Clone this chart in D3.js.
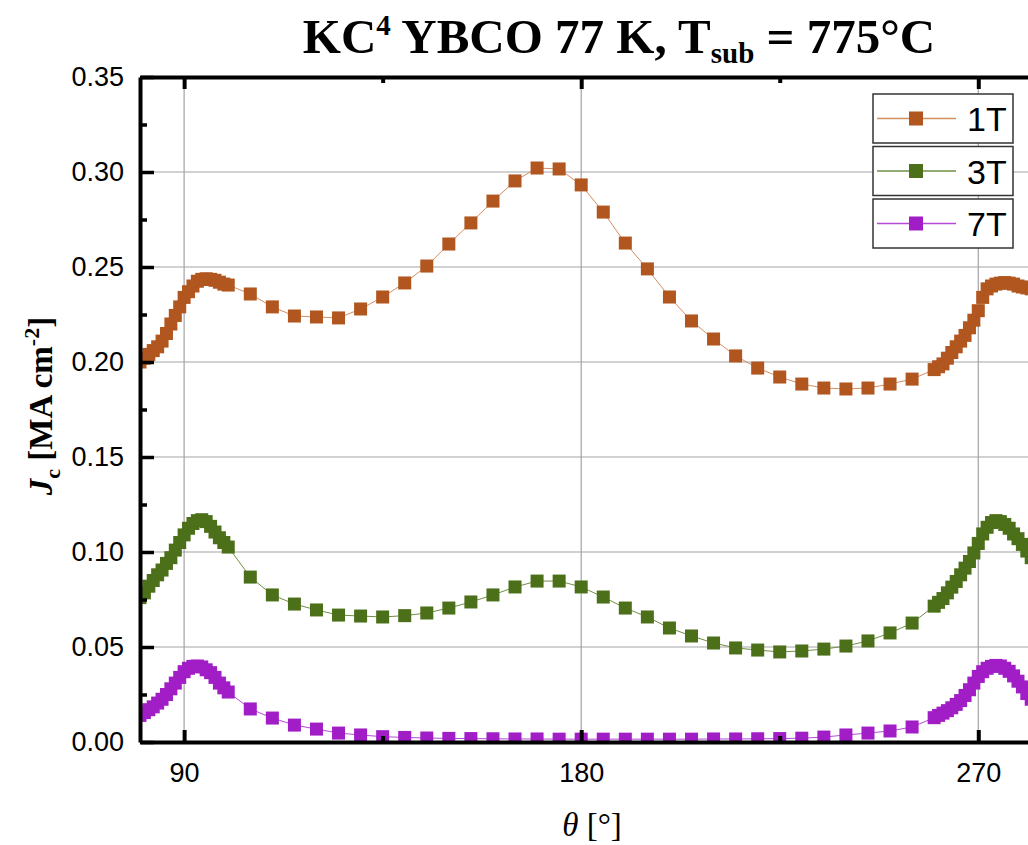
<!DOCTYPE html>
<html>
<head>
<meta charset="utf-8">
<script src="https://cdn.jsdelivr.net/npm/d3@7"></script>
<style>
  body { margin: 0; background: #fff; }
  svg { display: block; }
  .tick text { font-family: 'Liberation Sans', Arial, sans-serif; font-size: 27px; fill: #000; }
</style>
</head>
<body>
<script>
// angle in degrees, dense sampling near the ab-peaks
var angles = [80, 81, 82, 83, 84, 85, 86, 87, 88, 89, 90, 91, 92, 93, 94, 95, 96, 97, 98, 99, 100,
    105, 110, 115, 120, 125, 130, 135, 140, 145, 150, 155, 160, 165, 170, 175, 180,
    185, 190, 195, 200, 205, 210, 215, 220, 225, 230, 235, 240, 245, 250, 255,
    260, 261, 262, 263, 264, 265, 266, 267, 268, 269, 270, 271, 272, 273, 274, 275,
    276, 277, 278, 279, 280, 281, 282, 283, 284, 285];

var jc1T = [0.200, 0.202, 0.204, 0.206, 0.208, 0.211, 0.215, 0.220, 0.2245, 0.229, 0.234, 0.237, 0.240, 0.2425, 0.2435, 0.2438, 0.2435, 0.243, 0.242, 0.241, 0.2405,
    0.2358, 0.2290, 0.2242, 0.2237, 0.2232, 0.2279, 0.2342, 0.2416, 0.2505, 0.2621, 0.2732, 0.2847, 0.2953, 0.3021, 0.3016, 0.2932,
    0.2789, 0.2626, 0.2490, 0.2342, 0.2216, 0.2121, 0.2032, 0.1968, 0.1921, 0.1884, 0.1863, 0.1858, 0.1863, 0.1884, 0.1910,
    0.196, 0.1975, 0.199, 0.202, 0.205, 0.208, 0.211, 0.214, 0.218, 0.222, 0.227, 0.234, 0.2385, 0.240, 0.241, 0.2415,
    0.2418, 0.2415, 0.241, 0.240, 0.2395, 0.239, 0.2385, 0.238, 0.2375, 0.237];

var jc3T = [0.076, 0.0785, 0.082, 0.085, 0.088, 0.0905, 0.094, 0.097, 0.101, 0.105, 0.109, 0.1125, 0.115, 0.1165, 0.117, 0.116, 0.1135, 0.1105, 0.1075, 0.105, 0.1026,
    0.0868, 0.0774, 0.0726, 0.0695, 0.0668, 0.0663, 0.0658, 0.0665, 0.0679, 0.0705, 0.0737, 0.0774, 0.0816, 0.0847, 0.0847, 0.0816,
    0.0763, 0.0705, 0.0658, 0.0600, 0.0558, 0.0521, 0.0495, 0.0484, 0.0474, 0.0479, 0.0489, 0.0505, 0.0532, 0.0574, 0.0626,
    0.0715, 0.0735, 0.0755, 0.0785, 0.0815, 0.0845, 0.088, 0.0915, 0.095, 0.0995, 0.1045, 0.1095, 0.113, 0.1155, 0.1165, 0.116,
    0.1145, 0.1125, 0.1095, 0.107, 0.104, 0.1005, 0.097, 0.094, 0.091, 0.088];

var jc7T = [0.014, 0.0155, 0.017, 0.0185, 0.0205, 0.0225, 0.025, 0.028, 0.031, 0.034, 0.037, 0.0388, 0.0398, 0.040, 0.0395, 0.038, 0.0365, 0.034, 0.031, 0.0285, 0.0263,
    0.0174, 0.0126, 0.0089, 0.0068, 0.0047, 0.0037, 0.0028, 0.0024, 0.0021, 0.0019, 0.0018, 0.0017, 0.0016, 0.0016, 0.0015, 0.0015,
    0.0015, 0.0015, 0.0015, 0.0015, 0.0015, 0.0016, 0.0016, 0.0017, 0.0018, 0.0020, 0.0026, 0.0037, 0.0047, 0.0058, 0.0079,
    0.0128, 0.014, 0.0152, 0.0165, 0.018, 0.0198, 0.0218, 0.0245, 0.0275, 0.031, 0.0345, 0.037, 0.0388, 0.0398, 0.0403, 0.040,
    0.0388, 0.0372, 0.0348, 0.032, 0.029, 0.0255, 0.0225, 0.020, 0.018, 0.016];

var seriesNames = ['1T', '3T', '7T'];
var seriesValues = [jc1T, jc3T, jc7T];
var markerColors = ['#b0561e', '#4b7019', '#a11dc6'];
var lineColors = ['#d38f62', '#6f8f45', '#b54ad8'];

var xTicks = [90, 180, 270];
var xMinorTicks = [135, 225];
var yTicks = [0, 0.05, 0.10, 0.15, 0.20, 0.25, 0.30, 0.35];
var yMinorTicks = [0.025, 0.075, 0.125, 0.175, 0.225, 0.275, 0.325];

var width = 1028, height = 845;
var plotLeft = 140, plotTop = 77, plotBottom = 742;
var plotRight = plotLeft + 210 * 4.412;
var markerSize = 13;

var svg = d3.select('body').append('svg')
    .attr('width', width)
    .attr('height', height);

var x = d3.scaleLinear().domain([80, 290]).range([plotLeft, plotRight]);
var y = d3.scaleLinear().domain([0, 0.35]).range([plotBottom, plotTop]);

// grid
svg.append('g').selectAll('line')
    .data(yTicks.slice(1, -1))
    .enter().append('line')
    .attr('x1', plotLeft).attr('x2', plotRight)
    .attr('y1', function(d) { return y(d); })
    .attr('y2', function(d) { return y(d); })
    .attr('stroke', '#a3a3a3')
    .attr('stroke-width', 1.2);

svg.append('g').selectAll('line')
    .data(xTicks)
    .enter().append('line')
    .attr('y1', plotTop).attr('y2', plotBottom)
    .attr('x1', function(d) { return x(d); })
    .attr('x2', function(d) { return x(d); })
    .attr('stroke', '#a3a3a3')
    .attr('stroke-width', 1.2);

svg.append('clipPath').attr('id', 'plot-clip')
    .append('rect')
    .attr('x', plotLeft).attr('y', plotTop)
    .attr('width', plotRight - plotLeft).attr('height', plotBottom - plotTop);

var plot = svg.append('g').attr('clip-path', 'url(#plot-clip)');

var line = d3.line()
    .x(function(d) { return x(d[0]); })
    .y(function(d) { return y(d[1]); });

seriesValues.forEach(function(vals, k) {
    var pts = angles.map(function(a, i) { return [a, vals[i]]; });
    plot.append('path')
        .datum(pts)
        .attr('d', line)
        .attr('fill', 'none')
        .attr('stroke', lineColors[k])
        .attr('stroke-width', 1);
    plot.append('g').selectAll('rect')
        .data(pts)
        .enter().append('rect')
        .attr('x', function(d) { return x(d[0]) - markerSize / 2; })
        .attr('y', function(d) { return y(d[1]) - markerSize / 2; })
        .attr('width', markerSize)
        .attr('height', markerSize)
        .attr('fill', markerColors[k]);
});

// axes
function styleAxis(g, w) {
    g.select('.domain').attr('stroke', '#000').attr('stroke-width', 4);
    g.selectAll('.tick line').attr('stroke', '#000').attr('stroke-width', w);
}
function minorAxis(g, w) {
    g.select('.domain').remove();
    g.selectAll('.tick line').attr('stroke', '#000').attr('stroke-width', w);
}

svg.append('g')
    .attr('transform', 'translate(0,' + plotBottom + ')')
    .call(d3.axisBottom(x).tickValues(xTicks).tickSize(-12).tickSizeOuter(0).tickPadding(21))
    .call(styleAxis, 4);
svg.append('g')
    .attr('transform', 'translate(0,' + plotBottom + ')')
    .call(d3.axisBottom(x).tickValues(xMinorTicks).tickSize(-6).tickFormat(''))
    .call(minorAxis, 4);

svg.append('g')
    .attr('transform', 'translate(0,' + plotTop + ')')
    .call(d3.axisTop(x).tickValues(xTicks).tickSize(-12).tickSizeOuter(0).tickFormat(''))
    .call(styleAxis, 4);
svg.append('g')
    .attr('transform', 'translate(0,' + plotTop + ')')
    .call(d3.axisTop(x).tickValues(xMinorTicks).tickSize(-6).tickFormat(''))
    .call(minorAxis, 4);

svg.append('g')
    .attr('transform', 'translate(' + plotLeft + ',0)')
    .call(d3.axisLeft(y).tickValues(yTicks).tickSize(-14).tickSizeOuter(0).tickPadding(16)
        .tickFormat(d3.format('.2f')))
    .call(styleAxis, 3.5);
svg.append('g')
    .attr('transform', 'translate(' + plotLeft + ',0)')
    .call(d3.axisLeft(y).tickValues(yMinorTicks).tickSize(-7).tickFormat(''))
    .call(minorAxis, 3.5);

// title
var title = svg.append('text')
    .attr('x', 619).attr('y', 53)
    .attr('text-anchor', 'middle')
    .style('font-family', "'Liberation Serif', 'Times New Roman', serif")
    .style('font-weight', 'bold')
    .style('font-size', '49px');
title.append('tspan').text('KC');
title.append('tspan').attr('dy', -18).style('font-size', '29px').text('4');
title.append('tspan').attr('dy', 18).text(' YBCO 77 K, T');
title.append('tspan').attr('dy', 10).style('font-size', '29px').text('sub');
title.append('tspan').attr('dy', -10).text(' = 775°C');

// y label
var ylab = svg.append('text')
    .attr('transform', 'translate(52,406) rotate(-90)')
    .attr('text-anchor', 'middle')
    .style('font-family', "'Liberation Serif', 'Times New Roman', serif")
    .style('font-weight', 'bold')
    .style('font-size', '33px');
ylab.append('tspan').style('font-style', 'italic').text('J');
ylab.append('tspan').attr('dy', 8).style('font-size', '22px').text('c');
ylab.append('tspan').attr('dy', -8).text(' [MA cm');
ylab.append('tspan').attr('dy', -13).style('font-size', '22px').text('-2');
ylab.append('tspan').attr('dy', 13).text(']');

// x label
var xlab = svg.append('text')
    .attr('x', 592).attr('y', 836)
    .attr('text-anchor', 'middle')
    .style('font-family', "'Liberation Serif', 'Times New Roman', serif")
    .style('font-size', '33px');
xlab.append('tspan').style('font-style', 'italic').text('θ');
xlab.append('tspan').text(' [°]');

// legend
var legend = svg.append('g');
seriesNames.forEach(function(name, k) {
    var g = legend.append('g').attr('transform', 'translate(873,' + (94 + k * 52.5) + ')');
    g.append('rect')
        .attr('width', 140).attr('height', 49)
        .attr('fill', '#fff')
        .attr('stroke', '#333')
        .attr('stroke-width', 1.5);
    g.append('line')
        .attr('x1', 4).attr('x2', 83)
        .attr('y1', 24.5).attr('y2', 24.5)
        .attr('stroke', lineColors[k])
        .attr('stroke-width', 1.3);
    g.append('rect')
        .attr('x', 43 - 7).attr('y', 24.5 - 7)
        .attr('width', 14).attr('height', 14)
        .attr('fill', markerColors[k]);
    g.append('text')
        .attr('x', 94).attr('y', 37)
        .style('font-family', "'Liberation Sans', Arial, sans-serif")
        .style('font-size', '34px')
        .text(name);
});
</script>
</body>
</html>
